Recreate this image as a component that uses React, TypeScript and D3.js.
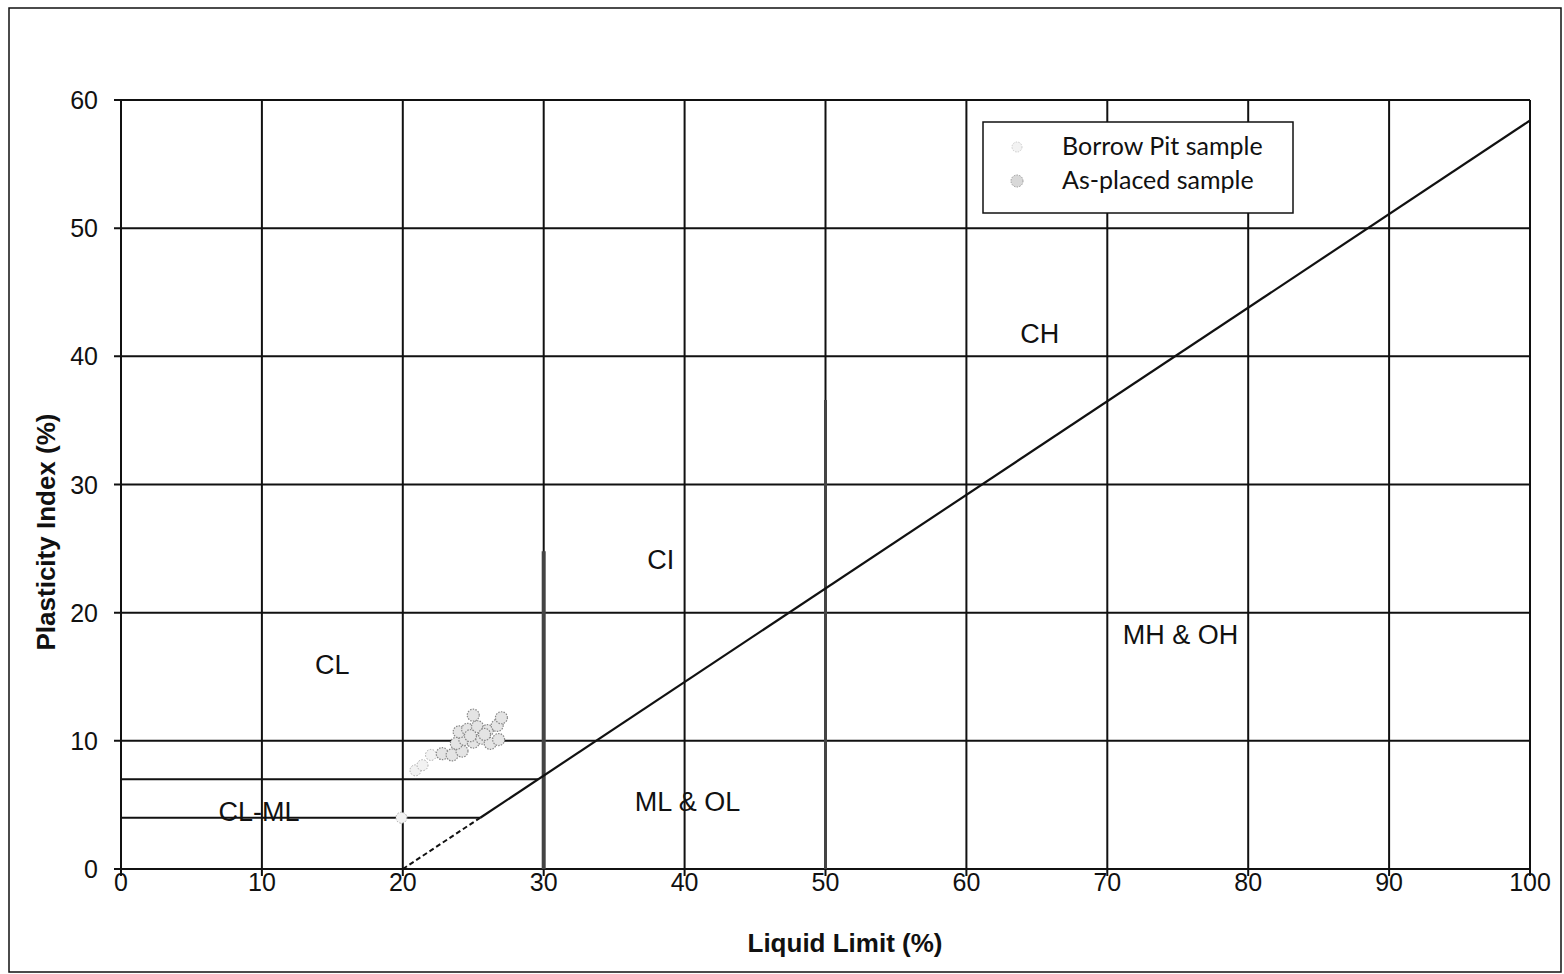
import React from "react";
import * as d3 from "d3";

const xTicks = [0, 10, 20, 30, 40, 50, 60, 70, 80, 90, 100];
const yTicks = [0, 10, 20, 30, 40, 50, 60];

// A-line: PI = 0.73 (LL - 20)
const aLineDashed: [number, number][] = [[20, 0], [25.5, 4]];
const aLineSolid: [number, number][] = [[25.5, 4], [100, 58.4]];
// CL-ML band boundaries
const hBoundaries: { pi: number; from: number; to: number }[] = [
  { pi: 4, from: 0, to: 25.5 },
  { pi: 7, from: 0, to: 29.6 },
];
// thick vertical boundaries
const vBoundaries: { ll: number; top: number; w: number }[] = [
  { ll: 30, top: 24.8, w: 4 },
  { ll: 50, top: 36.6, w: 3 },
];

const borrowLL = [20.9, 21.4, 19.9, 22.0];
const borrowPI = [7.7, 8.1, 4.0, 8.9];
const placedLL = [22.8, 23.5, 24.2, 23.8, 24.4, 25.0, 25.6, 26.2, 26.8, 24.0, 24.6, 25.3, 26.0, 26.7, 25.0, 27.0, 24.8, 25.8];
const placedPI = [9.0, 8.9, 9.2, 9.8, 10.1, 9.9, 10.2, 9.8, 10.1, 10.7, 10.9, 11.1, 10.8, 11.2, 12.0, 11.8, 10.4, 10.5];

const zoneLabels = ["CL", "CL-ML", "CI", "ML & OL", "CH", "MH & OH"];
const zoneLL = [15, 9.8, 38.3, 40.2, 65.2, 75.2];
const zonePI = [16, 4.5, 24.2, 5.3, 41.8, 18.3];

const legendLabels = ["Borrow Pit sample", "As-placed sample"];

export default function App() {
  const W = 1564, H = 974;
  const x = d3.scaleLinear().domain([0, 100]).range([121, 1530]);
  const y = d3.scaleLinear().domain([0, 60]).range([869, 100]);
  const line = d3.line<[number, number]>().x(d => x(d[0])).y(d => y(d[1]));
  const font = "'Liberation Sans', Arial, sans-serif";

  return (
    <svg width={W} height={H} style={{ position: "absolute", left: 0, top: 0, background: "#fff" }}>
      <rect x={0} y={0} width={W} height={H} fill="#fff" />
      <rect x={9} y={8} width={1552} height={964} fill="none" stroke="#111" strokeWidth={1.5} />
      {/* gridlines */}
      {xTicks.map(t => (
        <line key={"gx" + t} x1={x(t)} x2={x(t)} y1={y(60)} y2={y(0) + 7} stroke="#111" strokeWidth={2} />
      ))}
      {yTicks.map(t => (
        <line key={"gy" + t} x1={x(0) - 7} x2={x(100)} y1={y(t)} y2={y(t)} stroke="#111" strokeWidth={2} />
      ))}
      {/* boundaries */}
      {hBoundaries.map((b, i) => (
        <line key={"hb" + i} x1={x(b.from)} x2={x(b.to)} y1={y(b.pi)} y2={y(b.pi)} stroke="#111" strokeWidth={2} />
      ))}
      {vBoundaries.map((b, i) => (
        <line key={"vb" + i} x1={x(b.ll)} x2={x(b.ll)} y1={y(0)} y2={y(b.top)} stroke="#444" strokeWidth={b.w} />
      ))}
      <path d={line(aLineDashed) || ""} fill="none" stroke="#111" strokeWidth={2} strokeDasharray="5,3" />
      <path d={line(aLineSolid) || ""} fill="none" stroke="#111" strokeWidth={2.2} />
      {/* data points */}
      {borrowLL.map((v, i) => (
        <circle key={"b" + i} cx={x(v)} cy={y(borrowPI[i])} r={5.5} fill="#f2f2f2" stroke="#aaa" strokeWidth={1} strokeDasharray="1.5,1.5" />
      ))}
      {placedLL.map((v, i) => (
        <circle key={"p" + i} cx={x(v)} cy={y(placedPI[i])} r={6} fill="#e4e4e4" stroke="#888" strokeWidth={1.2} strokeDasharray="1.5,1.2" />
      ))}
      {/* tick labels */}
      {xTicks.map(t => (
        <text key={"xl" + t} x={x(t)} y={891} textAnchor="middle" fontFamily={font} fontSize={25} fill="#111">{t}</text>
      ))}
      {yTicks.map(t => (
        <text key={"yl" + t} x={98} y={y(t) + 9} textAnchor="end" fontFamily={font} fontSize={25} fill="#111">{t}</text>
      ))}
      {/* axis titles */}
      <text x={845} y={952} textAnchor="middle" fontFamily={font} fontSize={26} fontWeight="bold" fill="#111">Liquid Limit (%)</text>
      <text transform={`translate(55,532) rotate(-90)`} textAnchor="middle" fontFamily={font} fontSize={26} fontWeight="bold" fill="#111">Plasticity Index (%)</text>
      {/* zone labels */}
      {zoneLabels.map((s, i) => (
        <text key={"z" + i} x={x(zoneLL[i])} y={y(zonePI[i]) + 10} textAnchor="middle" fontFamily={font} fontSize={27} fill="#111">{s}</text>
      ))}
      {/* legend */}
      <rect x={983} y={122} width={310} height={91} fill="#fff" stroke="#111" strokeWidth={1.5} />
      {legendLabels.map((s, i) => (
        <g key={"lg" + i}>
          <circle cx={1017} cy={147 + i * 34} r={i === 0 ? 5 : 6} fill={i === 0 ? "#f2f2f2" : "#d8d8d8"} stroke={i === 0 ? "#ccc" : "#999"} strokeWidth={1} strokeDasharray="1.5,1.2" />
          <text x={1062} y={155 + i * 34} fontFamily="Lato, 'Open Sans', sans-serif" fontSize={25} fill="#111">{s}</text>
        </g>
      ))}
    </svg>
  );
}
